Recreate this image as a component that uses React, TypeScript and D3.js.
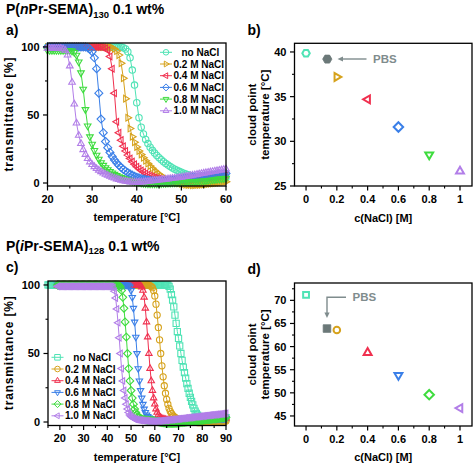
import React from "react";
import * as d3 from "d3";

const FONT = "'Liberation Sans', Arial, Helvetica, sans-serif";

// ---------- shared ----------
const saltLabels = ["no NaCl", "0.2 M NaCl", "0.4 M NaCl", "0.6 M NaCl", "0.8 M NaCl", "1.0 M NaCl"];
const saltColors = ["#4fe3b5", "#d6a21c", "#f0304f", "#3a7fe8", "#3edc3e", "#b27ee8"];
const naclConc = [0, 0.2, 0.4, 0.6, 0.8, 1.0];
const pbsColor = "#6b7878";
const pbsTextColor = "#7f8c8d";

// ---------- panel a: P(nPr-SEMA)130, transmittance vs T (20..60 °C, 0.5 °C steps) ----------
const aStart = 20;
const aStep = 0.5;
const aNoNaCl = [
  100, 100, 100, 100, 100, 100, 100, 100, 100, 100,
  100, 100, 100, 100, 100, 100, 100, 100, 100, 100,
  100, 100, 100, 100, 100, 100, 100, 100, 100, 100,
  100, 100, 100, 100,
  99.5, 98.5, 96.5, 92, 83, 72, 59,
  48, 41, 36, 32, 29, 26.3, 24, 22, 20.2, 18.6, 17.1, 15.7, 14.4, 13.2, 12.1, 11.1, 10.2, 9.4, 8.6, 7.9,
  7.2, 6.6, 6.1, 5.6, 5.2, 4.8, 4.5, 4.2, 4, 3.8, 3.7, 3.6, 3.5, 3.5, 3.5, 3.5, 3.6, 3.7, 3.8, 3.9,
];
const a02 = [
  100, 100, 100, 100, 100, 100, 100, 100, 100, 100,
  100, 100, 100, 100, 100, 100, 100, 100, 100, 100,
  100, 100, 100, 100, 100, 100, 100, 100, 100,
  99.5, 98.5, 97, 94, 88, 77, 62, 48, 40, 34, 30, 26.5,
  23.5, 21, 18.5, 16.3, 14.3, 12.5, 10.8, 9.2, 7.8, 6.5, 5.3, 4.2, 3.3, 2.5, 1.8, 1.2, 0.7, 0.2, -0.2, -0.6,
  -0.9, -1.2, -1.4, -1.5, -1.6, -1.6, -1.5, -1.4, -1.3, -1.1, -0.9, -0.7, -0.5, -0.3, -0.1, 0.1, 0.3, 0.5, 0.7, 0.9,
];
const a04 = [
  100, 100, 100, 100, 100, 100, 100, 100, 100, 100,
  100, 100, 100, 100, 100, 100, 100, 100, 100, 100,
  100, 100, 100, 100, 100,
  99.5, 99, 97.5, 93, 84, 66, 45, 37, 31.5, 27, 23.5, 20.5, 18, 15.7, 13.7, 12,
  10.5, 9.2, 8, 7, 6.1, 5.3, 4.6, 4, 3.5, 3.1, 2.7, 2.4, 2.2, 2, 1.9, 1.8, 1.8, 1.8, 1.9, 2,
  2.1, 2.3, 2.5, 2.7, 2.9, 3.1, 3.3, 3.5, 3.7, 3.9, 4.1, 4.3, 4.5, 4.7, 4.9, 5.1, 5.3, 5.5, 5.7, 5.9,
];
const a06 = [
  100, 100, 100, 100, 100, 100, 100, 100, 100, 100,
  100, 100, 100, 100, 100, 100, 100, 100,
  99.5, 98.5, 96.5, 92, 84, 66, 47, 37, 30.5, 26, 22.5, 19.5, 17, 14.8, 13, 11.4, 10, 8.8, 7.7, 6.7, 5.8, 5, 4.3,
  3.8, 3.3, 2.9, 2.5, 2.2, 2, 1.8, 1.7, 1.6, 1.6, 1.6, 1.7, 1.8, 1.9, 2, 2.2, 2.4, 2.6, 2.8, 3,
  3.2, 3.4, 3.6, 3.8, 4, 4.2, 4.4, 4.6, 4.8, 5, 5.2, 5.4, 5.6, 5.8, 6, 6.2, 6.4, 6.6, 6.8, 7,
];
const a08 = [
  97.5, 97.5, 97.5, 97.5, 97.5, 97.5, 97.5, 97.5, 97.5, 97.5, 97.5,
  97, 96, 94, 89, 81, 69, 54, 42, 34, 28.5, 24, 20.5, 17.5, 15, 13, 11.3, 9.8, 8.5, 7.4, 6.4,
  5.5, 4.7, 4, 3.4, 2.8, 2.3, 1.8, 1.4, 1, 0.6,
  0.3, 0, -0.2, -0.4, -0.5, -0.6, -0.6, -0.6, -0.6, -0.5, -0.4, -0.3, -0.2, -0.1, 0, 0.1, 0.2, 0.3, 0.4, 0.5,
  0.6, 0.7, 0.8, 0.9, 1, 1.1, 1.2, 1.3, 1.4, 1.5, 1.7, 1.9, 2.1, 2.3, 2.5, 2.7, 2.9, 3.1, 3.3, 3.5,
];
const a10 = [
  99, 99, 99, 99, 99, 99, 99,
  98.5, 97.5, 94, 86, 74, 58, 44, 35, 29, 24.5, 21, 18, 15.5, 13.5, 12, 10.6, 9.4, 8.3, 7.3, 6.4,
  5.6, 4.9, 4.2, 3.6, 3, 2.5, 2, 1.6, 1.3, 1, 0.8, 0.7, 0.6, 0.6,
  0.6, 0.7, 0.8, 1, 1.2, 1.4, 1.6, 1.8, 2, 2.2, 2.4, 2.6, 2.8, 3, 3.2, 3.4, 3.6, 3.8, 4, 4.2,
  4.5, 4.8, 5.1, 5.4, 5.7, 6, 6.3, 6.6, 6.9, 7.2, 7.5, 7.8, 8.1, 8.4, 8.7, 9, 9.3, 9.6, 9.9, 10.2,
];
const aSeries = [aNoNaCl, a02, a04, a06, a08, a10];
const aShapes = ["circle", "triR", "triL", "diamond", "triD", "triU"];

// ---------- panel b: cloud points nPr ----------
const bCloud = [39.85, 37.2, 34.7, 31.6, 28.5, 26.65];
const bShapes = ["hex", "triR", "triL", "diamond", "triD", "triU"];
const bPbs = [0.138, 39.2];

// ---------- panel c: P(iPr-SEMA)128, transmittance vs T (0.5 °C steps) ----------
const cStarts = [15, 19, 19, 19, 19, 19];
const cStep = 0.5;
const cNoNaCl = [
  100, 100, 100, 100, 100, 100, 100, 100, 100, 100,
  100, 100, 100, 100, 100, 100, 100, 100, 100, 100,
  100, 100, 100, 100, 100, 100, 100, 100, 100, 100,
  100, 100, 100, 100, 100, 100, 100, 100, 100, 100,
  100, 100, 100, 100, 100, 100, 100, 100, 100, 100,
  100, 100, 100, 100, 100, 100, 100, 100, 100, 100,
  100, 100, 100, 100, 100, 100, 100, 100, 100, 100,
  100, 100, 100, 100, 100, 100, 100, 100, 100, 100,
  100, 100, 100, 100, 100, 100, 100, 100, 100, 100,
  100, 100, 100, 100, 100, 100, 100, 100, 100, 100,
  100, 100,
  99, 97, 93, 89, 84, 78, 72, 66, 61, 55.5, 50, 45, 40, 36, 32, 28, 24.5, 21, 18, 15, 12.5, 10, 8, 6.3, 5, 4, 3.2, 2.7, 2.4,
  2.2, 2.1, 2, 2, 2, 2, 2, 2, 2, 2.1, 2.2, 2.3, 2.4, 2.5, 2.6, 2.7, 2.8, 2.9, 3, 3.1,
];
const c02 = [
  100, 100, 100, 100, 100, 100, 100, 100, 100, 100,
  100, 100, 100, 100, 100, 100, 100, 100, 100, 100,
  100, 100, 100, 100, 100, 100, 100, 100, 100, 100,
  100, 100, 100, 100, 100, 100, 100, 100, 100, 100,
  100, 100, 100, 100, 100, 100, 100, 100, 100, 100,
  100, 100, 100, 100, 100, 100, 100, 100, 100, 100,
  100, 100, 100, 100, 100, 100, 100, 100, 100, 100,
  100, 100, 100, 100, 100, 100, 100, 100,
  99.5, 99, 98, 96, 92, 86, 78, 69, 60, 50, 41, 33, 26.5, 21, 16.5, 13, 10, 7.8, 6.2, 5,
  4.1, 3.4, 2.8, 2.3, 1.9, 1.6, 1.3, 1.1, 0.9, 0.7, 0.5, 0.4, 0.3, 0.2, 0.1, 0, -0.1, -0.2, -0.3, -0.3,
  -0.4, -0.4, -0.4, -0.4, -0.4, -0.3, -0.3, -0.2, -0.2, -0.1, 0, 0.1, 0.2, 0.2, 0.3, 0.3, 0.4, 0.4, 0.5, 0.5,
  0.6, 0.6, 0.7, 0.7, 0.8,
];
const c04 = [
  100, 100, 100, 100, 100, 100, 100, 100, 100, 100,
  100, 100, 100, 100, 100, 100, 100, 100, 100, 100,
  100, 100, 100, 100, 100, 100, 100, 100, 100, 100,
  100, 100, 100, 100, 100, 100, 100, 100, 100, 100,
  100, 100, 100, 100, 100, 100, 100, 100, 100, 100,
  100, 100, 100, 100, 100, 100, 100, 100, 100, 100,
  100, 100, 100, 100, 100, 100, 100, 100, 100, 100,
  99.5, 98.5, 96, 91, 83, 73, 62, 50, 39, 30, 23, 17.5, 13, 9.5, 7, 5.2, 4, 3.2, 2.6, 2.2,
  1.9, 1.7, 1.5, 1.4, 1.3, 1.2, 1.1, 1, 1, 0.9,
  0.9, 0.9, 0.9, 0.9, 0.9, 1, 1, 1, 1.1, 1.1, 1.2, 1.2, 1.3, 1.3, 1.4, 1.4, 1.5, 1.5, 1.6, 1.6,
  1.7, 1.7, 1.8, 1.8, 1.9, 1.9, 2, 2, 2.1, 2.1, 2.2, 2.2, 2.3, 2.3, 2.4, 2.4, 2.5, 2.5, 2.6, 2.6,
  2.7, 2.7, 2.8,
];
const c06 = [
  100, 100, 100, 100, 100, 100, 100, 100, 100, 100,
  100, 100, 100, 100, 100, 100, 100, 100, 100, 100,
  100, 100, 100, 100, 100, 100, 100, 100, 100, 100,
  100, 100, 100, 100, 100, 100, 100, 100, 100, 100,
  100, 100, 100, 100, 100, 100, 100, 100, 100, 100,
  100, 100, 100, 100, 100, 100, 100, 100, 100, 100,
  99.5, 98.5, 96, 91, 83, 73, 62, 50, 39, 30, 23, 17.5, 13, 9.5, 7, 5.2, 4, 3.2, 2.6, 2.2,
  1.9, 1.7, 1.5, 1.4, 1.3, 1.2, 1.1, 1, 1, 0.9,
  0.9, 0.9, 0.9, 1, 1, 1, 1.1, 1.1, 1.1, 1.2, 1.2, 1.2, 1.3, 1.3, 1.3, 1.4, 1.4, 1.4, 1.5, 1.5,
  1.5, 1.6, 1.6, 1.6, 1.7, 1.7, 1.7, 1.8, 1.8, 1.8, 1.9, 1.9, 1.9, 2, 2, 2, 2.1, 2.1, 2.1, 2.2,
  2.2, 2.2, 2.3, 2.3, 2.3, 2.4, 2.4, 2.4, 2.5, 2.5, 2.5, 2.6, 2.6,
];
const c08 = [
  100, 100, 100, 100, 100, 100, 100, 100, 100, 100,
  100, 100, 100, 100, 100, 100, 100, 100, 100, 100,
  100, 100, 100, 100, 100, 100, 100, 100, 100, 100,
  100, 100, 100, 100, 100, 100, 100, 100, 100, 100,
  100, 100, 100, 100, 100, 100, 100, 100, 100, 100,
  100, 100,
  99.5, 98.5, 96, 91, 83, 73, 62, 50, 39, 30, 23, 17.5, 13, 9.5, 7, 5.2, 4, 3.2, 2.6, 2.2,
  1.9, 1.7, 1.5, 1.4, 1.3, 1.2, 1.1, 1, 1, 0.9,
  0.7, 0.5, 0.3, 0.1, -0.1, -0.3, -0.5, -0.6, -0.7, -0.8, -0.9, -1, -1, -1, -1, -1, -1, -0.9, -0.9, -0.8,
  -0.7, -0.6, -0.5, -0.4, -0.3, -0.2, -0.1, 0, 0.1, 0.2, 0.3, 0.4, 0.5, 0.6, 0.7, 0.8, 0.9, 1, 1.1, 1.2,
  1.3, 1.4, 1.5, 1.6, 1.7, 1.8, 1.9, 2, 2.1, 2.2, 2.3, 2.4, 2.5, 2.6, 2.7, 2.8, 2.9, 3, 3.1, 3.2,
  3.3,
];
const c10 = [
  99, 99, 99, 99, 99, 99, 99, 99, 99, 99,
  99, 99, 99, 99, 99, 99, 99, 99, 99, 99,
  99, 99, 99, 99, 99, 99, 99, 99, 99, 99,
  99, 99, 99, 99, 99, 99, 99, 99, 99, 99,
  99, 99, 99, 99, 99, 99,
  98.8, 98, 95.5, 90.5, 82.5, 72.5, 61.5, 50, 39, 30, 23, 17.5, 13, 9.5, 7, 5.2, 4, 3.2, 2.6, 2.2,
  1.9, 1.7, 1.5, 1.4, 1.3, 1.2, 1.1, 1, 1, 0.9,
  0.8, 0.7, 0.6, 0.5, 0.5, 0.5, 0.5, 0.6, 0.6, 0.7, 0.7, 0.8, 0.9, 1, 1.1, 1.2, 1.3, 1.4, 1.5, 1.6,
  1.7, 1.8, 1.9, 2, 2.1, 2.2, 2.3, 2.4, 2.5, 2.6, 2.7, 2.8, 2.9, 3, 3.1, 3.2, 3.3, 3.4, 3.5, 3.6,
  3.7, 3.8, 3.9, 4, 4.1, 4.2, 4.3, 4.4, 4.5, 4.6, 4.7, 4.8, 4.9, 5, 5.1, 5.2, 5.3, 5.4, 5.5, 5.6,
  5.7, 5.8, 5.9, 6, 6.1, 6.2, 6.3,
];
const cSeries = [cNoNaCl, c02, c04, c06, c08, c10];
const cShapes = ["square", "circle", "triU", "triD", "diamond", "triL"];

// ---------- panel d: cloud points iPr ----------
const dCloud = [71.2, 63.6, 58.7, 53.8, 49.6, 46.7];
const dShapes = ["square", "circle", "triU", "triD", "diamond", "triL"];
const dPbs = [0.136, 63.9];

// ---------- ticks ----------
const aXTicks = [20, 30, 40, 50, 60];
const aXMinor = [25, 35, 45, 55];
const tYTicks = [0, 50, 100];
const tYMinor = [25, 75];
const cXTicks = [20, 30, 40, 50, 60, 70, 80, 90];
const cXMinor = [15, 25, 35, 45, 55, 65, 75, 85];
const concTicks = [0, 0.2, 0.4, 0.6, 0.8, 1];
const concTickLabels = ["0", "0.2", "0.4", "0.6", "0.8", "1"];
const concMinor = [0.1, 0.3, 0.5, 0.7, 0.9];
const bYTicks = [25, 30, 35, 40];
const bYMinor = [27.5, 32.5, 37.5];
const dYTicks = [45, 50, 55, 60, 65, 70];
const dYMinor = [47.5, 52.5, 57.5, 62.5, 67.5, 72.5];

// ---------- scales ----------
const ax = d3.scaleLinear().domain([20, 60]).range([47.5, 226]);
const ay = d3.scaleLinear().domain([-2.2, 102.9]).range([186, 43]);
const bx = d3.scaleLinear().domain([-0.075, 1.078]).range([294.5, 472]);
const by = d3.scaleLinear().domain([25, 40.97]).range([186, 43.3]);
const cx = d3.scaleLinear().domain([15, 90]).range([48, 226]);
const cy = d3.scaleLinear().domain([-2.55, 102.9]).range([425.5, 281]);
const dx = d3.scaleLinear().domain([-0.075, 1.078]).range([294.5, 472]);
const dy = d3.scaleLinear().domain([42.83, 73.75]).range([426, 283]);

function poly(r: number, angles: number[]): string {
  return (
    angles
      .map((a, i) => {
        const t = (a * Math.PI) / 180;
        return `${i ? "L" : "M"}${(r * Math.cos(t)).toFixed(2)},${(r * Math.sin(t)).toFixed(2)}`;
      })
      .join("") + "Z"
  );
}

function markerPath(shape: string, r: number): string {
  switch (shape) {
    case "circle":
      return `M${r},0A${r},${r} 0 1,1 ${-r},0A${r},${r} 0 1,1 ${r},0Z`;
    case "square":
      return `M${-r},${-r}H${r}V${r}H${-r}Z`;
    case "diamond":
      return poly(r * 1.25, [-90, 0, 90, 180]);
    case "triU":
      return poly(r * 1.2, [-90, 30, 150]);
    case "triD":
      return poly(r * 1.2, [90, 210, 330]);
    case "triR":
      return poly(r * 1.2, [0, 120, 240]);
    case "triL":
      return poly(r * 1.2, [180, 300, 60]);
    case "hex":
      return poly(r * 1.1, [0, 60, 120, 180, 240, 300]);
    default:
      return "";
  }
}

type Scale = d3.ScaleLinear<number, number>;

function Frame(props: {
  x: Scale;
  y: Scale;
  xTicks: number[];
  xMinor: number[];
  yTicks: number[];
  yMinor: number[];
  xLabels?: string[];
}) {
  const { x, y, xTicks, xMinor, yTicks, yMinor, xLabels } = props;
  const [x0, x1] = x.range();
  const [y0, y1] = y.range();
  return (
    <g fontFamily={FONT} fontWeight="bold" fontSize={11}>
      <rect x={x0} y={y1} width={x1 - x0} height={y0 - y1} fill="none" stroke="#000" strokeWidth={1.3} />
      {xTicks.map((t, i) => (
        <g key={"xt" + i}>
          <line x1={x(t)} x2={x(t)} y1={y0} y2={y0 + 4.5} stroke="#000" strokeWidth={1.2} />
          <text x={x(t)} y={y0 + 16.5} textAnchor="middle">
            {xLabels ? xLabels[i] : String(t)}
          </text>
        </g>
      ))}
      {xMinor.map((t, i) => (
        <line key={"xm" + i} x1={x(t)} x2={x(t)} y1={y0} y2={y0 + 2.5} stroke="#000" strokeWidth={1.1} />
      ))}
      {yTicks.map((t, i) => (
        <g key={"yt" + i}>
          <line x1={x0} x2={x0 - 4.5} y1={y(t)} y2={y(t)} stroke="#000" strokeWidth={1.2} />
          <text x={x0 - 8} y={y(t) + 4} textAnchor="end">
            {String(t)}
          </text>
        </g>
      ))}
      {yMinor.map((t, i) => (
        <line key={"ym" + i} x1={x0} x2={x0 - 2.5} y1={y(t)} y2={y(t)} stroke="#000" strokeWidth={1.1} />
      ))}
    </g>
  );
}

function Curves(props: { x: Scale; y: Scale; series: number[][]; starts: number[]; step: number; shapes: string[]; r: number }) {
  const { x, y, series, starts, step, shapes, r } = props;
  const line = d3.line<[number, number]>().x((d) => x(d[0])).y((d) => y(d[1]));
  return (
    <g>
      {series.map((vals, k) => {
        const pts: [number, number][] = vals.map((v, i) => [starts[k] + i * step, v]);
        const mp = markerPath(shapes[k], r);
        return (
          <g key={k} stroke={saltColors[k]} fill="none">
            <path d={line(pts) || ""} strokeWidth={1} />
            {pts.map((p, i) => (
              <path key={i} d={mp} transform={`translate(${x(p[0]).toFixed(2)},${y(p[1]).toFixed(2)})`} strokeWidth={1.1} />
            ))}
          </g>
        );
      })}
    </g>
  );
}

function Legend(props: { x: number; y: number; shapes: string[]; textX: number; firstTextX: number }) {
  const { x, y, shapes, textX, firstTextX } = props;
  return (
    <g fontFamily={FONT} fontWeight="bold" fontSize={10}>
      {saltLabels.map((lab, k) => {
        const yy = y + k * 11.7;
        return (
          <g key={k}>
            <line x1={x - 6} x2={x + 6} y1={yy} y2={yy} stroke={saltColors[k]} strokeWidth={1} />
            <path d={markerPath(shapes[k], 2.8)} transform={`translate(${x},${yy})`} fill="none" stroke={saltColors[k]} strokeWidth={1} />
            <text x={k === 0 ? firstTextX : textX} y={yy + 3.6} fill="#000">
              {lab}
            </text>
          </g>
        );
      })}
    </g>
  );
}

function CloudPoints(props: { x: Scale; y: Scale; vals: number[]; shapes: string[]; pbs: number[]; pbsShape: string }) {
  const { x, y, vals, shapes, pbs, pbsShape } = props;
  return (
    <g>
      {vals.map((v, k) => {
        const s = shapes[k];
        const r = s === "square" ? 2.9 : s === "circle" ? 3.3 : s === "hex" ? 3.4 : 3.8;
        return (
          <path
            key={k}
            d={markerPath(s, r)}
            transform={`translate(${x(naclConc[k])},${y(v)})`}
            fill="none"
            stroke={saltColors[k]}
            strokeWidth={2}
          />
        );
      })}
      <path
        d={markerPath(pbsShape, pbsShape === "square" ? 3.8 : 4.2)}
        transform={`translate(${x(pbs[0])},${y(pbs[1])})`}
        fill={pbsColor}
        stroke={pbsColor}
        strokeWidth={0.8}
      />
    </g>
  );
}

export default function App() {
  const lab = { fontFamily: FONT, fontWeight: "bold" as const };
  return (
    <svg width={475} height={468} style={{ position: "absolute", left: 0, top: 0, background: "#fff" }}>
      <rect x={0} y={0} width={475} height={468} fill="#fff" />
      {/* titles */}
      <text x={6} y={14} fontSize={14} {...lab}>
        <tspan>P(</tspan>
        <tspan fontStyle="italic">n</tspan>
        <tspan>Pr-SEMA)</tspan>
        <tspan fontSize={9.5} dy={3.5}>130</tspan>
        <tspan dy={-3.5}> 0.1 wt%</tspan>
      </text>
      <text x={6} y={250.5} fontSize={14} {...lab}>
        <tspan>P(</tspan>
        <tspan fontStyle="italic">i</tspan>
        <tspan>Pr-SEMA)</tspan>
        <tspan fontSize={9.5} dy={3.5}>128</tspan>
        <tspan dy={-3.5}> 0.1 wt%</tspan>
      </text>
      <text x={6} y={35} fontSize={14} {...lab}>a)</text>
      <text x={247.5} y={34.5} fontSize={14} {...lab}>b)</text>
      <text x={6} y={271.5} fontSize={14} {...lab}>c)</text>
      <text x={247.5} y={273.5} fontSize={14} {...lab}>d)</text>

      {/* panel a */}
      <Curves x={ax} y={ay} series={aSeries} starts={[aStart, aStart, aStart, aStart, aStart, aStart]} step={aStep} shapes={aShapes} r={3.2} />
      <Frame x={ax} y={ay} xTicks={aXTicks} xMinor={aXMinor} yTicks={tYTicks} yMinor={tYMinor} />
      <Legend x={166} y={52.3} shapes={aShapes} textX={173.5} firstTextX={181.5} />
      <text transform="translate(12.5,114.5) rotate(-90)" textAnchor="middle" fontSize={12} textLength={114} lengthAdjust="spacing" {...lab}>
        transmittance [%]
      </text>
      <text x={136.75} y={221} textAnchor="middle" fontSize={11} {...lab}>temperature [°C]</text>

      {/* panel b */}
      <Frame x={bx} y={by} xTicks={concTicks} xMinor={concMinor} yTicks={bYTicks} yMinor={bYMinor} xLabels={concTickLabels} />
      <CloudPoints x={bx} y={by} vals={bCloud} shapes={bShapes} pbs={bPbs} pbsShape="hex" />
      <g stroke={pbsTextColor} fill={pbsTextColor}>
        <line x1={366.5} x2={341} y1={59} y2={59} strokeWidth={1.4} />
        <path d="M337.5,59L343,56.4L343,61.6Z" stroke="none" />
      </g>
      <text x={373} y={63} fontSize={11.5} fill={pbsTextColor} {...lab}>PBS</text>
      <text transform="translate(256,114.7) rotate(-90)" textAnchor="middle" fontSize={11.5} {...lab}>cloud point</text>
      <text transform="translate(268.5,114.7) rotate(-90)" textAnchor="middle" fontSize={11.5} {...lab}>temperature [°C]</text>
      <text x={383.25} y={221.5} textAnchor="middle" fontSize={11} {...lab}>c(NaCl) [M]</text>

      {/* panel c */}
      <Curves x={cx} y={cy} series={cSeries} starts={cStarts} step={cStep} shapes={cShapes} r={3.1} />
      <Frame x={cx} y={cy} xTicks={cXTicks} xMinor={cXMinor} yTicks={tYTicks} yMinor={tYMinor} />
      <Legend x={57.5} y={357.3} shapes={cShapes} textX={65} firstTextX={73.3} />
      <text transform="translate(12.5,353.2) rotate(-90)" textAnchor="middle" fontSize={12} textLength={114} lengthAdjust="spacing" {...lab}>
        transmittance [%]
      </text>
      <text x={137} y={460.5} textAnchor="middle" fontSize={11} {...lab}>temperature [°C]</text>

      {/* panel d */}
      <Frame x={dx} y={dy} xTicks={concTicks} xMinor={concMinor} yTicks={dYTicks} yMinor={dYMinor} xLabels={concTickLabels} />
      <CloudPoints x={dx} y={dy} vals={dCloud} shapes={dShapes} pbs={dPbs} pbsShape="square" />
      <g stroke={pbsTextColor} fill={pbsTextColor} strokeWidth={1.4}>
        <polyline points="346,297.3 327,297.3 327,313" fill="none" />
        <path d="M327,318L324.4,312.5L329.6,312.5Z" stroke="none" />
      </g>
      <text x={352.5} y={301.3} fontSize={11.5} fill={pbsTextColor} {...lab}>PBS</text>
      <text transform="translate(256,354.5) rotate(-90)" textAnchor="middle" fontSize={11.5} {...lab}>cloud point</text>
      <text transform="translate(268.5,354.5) rotate(-90)" textAnchor="middle" fontSize={11.5} {...lab}>temperature [°C]</text>
      <text x={383.25} y={460.5} textAnchor="middle" fontSize={11} {...lab}>c(NaCl) [M]</text>
    </svg>
  );
}
